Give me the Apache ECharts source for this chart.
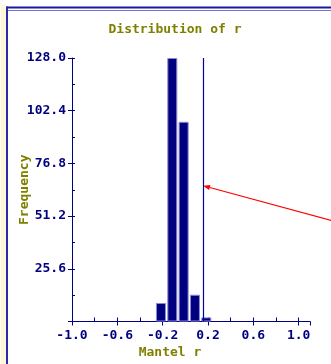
<!DOCTYPE html>
<html><head><meta charset="utf-8">
<script src="https://cdn.jsdelivr.net/npm/echarts@6/dist/echarts.min.js"></script>
<style>html,body{margin:0;padding:0;background:#fff}#c{width:331px;height:364px}</style>
</head><body><div id="c"></div>
<script>
// Data
var binCenters = [-0.215, -0.115, -0.015, 0.085, 0.185];
var frequencies = [9, 128, 97, 13, 2];
var observedR = 0.156;
var arrowTipFreq = 66;
var arrowTail = [1.36, 48];
var xLabelValues = [-1.0, -0.6, -0.2, 0.2, 0.6, 1.0];
var yLabelValues = [25.6, 51.2, 76.8, 102.4, 128.0];

var NAVY = '#000080', OLIVE = '#808000';
var FONT = 'DejaVu Sans Mono';
var chart = echarts.init(document.getElementById('c'));
var barData = binCenters.map(function (x, i) { return [x, frequencies[i]]; });

function near(v, list) { for (var i = 0; i < list.length; i++) if (Math.abs(v - list[i]) < 1e-6) return true; return false; }
var labelStyle = { color: NAVY, fontFamily: FONT, fontWeight: 'bold', fontSize: 13 };

chart.setOption({
  animation: false,
  title: { text: 'Distribution of r', left: 170, top: 18, textAlign: 'center',
    textStyle: { color: OLIVE, fontFamily: FONT, fontWeight: 'bold', fontSize: 13 } },
  grid: { left: 72, right: 21, top: 58, bottom: 42.5, containLabel: false, outerBoundsMode: 'none' },
  xAxis: [{
    type: 'value', min: -1, max: 1.1, interval: 0.2,
    name: 'Mantel r', nameLocation: 'middle', nameGap: 25, nameMoveOverlap: false,
    nameTextStyle: { color: OLIVE, fontFamily: FONT, fontWeight: 'bold', fontSize: 13, padding: [0, 42, 0, 0] },
    axisLine: { onZero: false, lineStyle: { color: NAVY, width: 1 } },
    axisTick: { inside: true, length: 4, lineStyle: { color: NAVY } },
    splitLine: { show: false },
    axisLabel: Object.assign({ margin: 8, showMaxLabel: false, formatter: function (v) {
      return near(v, xLabelValues) ? v.toFixed(1) : ''; } }, labelStyle)
  }, {
    type: 'value', min: -1, max: 1.1, interval: 0.4, position: 'bottom', offset: 0,
    axisLine: { show: false, onZero: false }, axisTick: { inside: false, length: 4, lineStyle: { color: NAVY } },
    axisLabel: { show: false }, splitLine: { show: false }
  }],
  yAxis: [{
    type: 'value', min: 0, max: 128, interval: 12.8,
    name: 'Frequency', nameLocation: 'middle', nameGap: 41, nameMoveOverlap: false,
    nameTextStyle: { color: OLIVE, fontFamily: FONT, fontWeight: 'bold', fontSize: 13 },
    axisLine: { show: true, onZero: false, lineStyle: { color: NAVY, width: 1 } },
    axisTick: { show: true, inside: true, length: 3, lineStyle: { color: NAVY } },
    splitLine: { show: false },
    axisLabel: Object.assign({ margin: 6, formatter: function (v) {
      return near(v, yLabelValues) ? v.toFixed(1) : ''; } }, labelStyle)
  }, {
    type: 'value', min: 0, max: 128, interval: 25.6, position: 'left', offset: 0,
    axisLine: { show: false, onZero: false }, axisTick: { show: true, inside: false, length: 4, lineStyle: { color: NAVY } },
    axisLabel: { show: false }, splitLine: { show: false }
  }],
  series: [{
    type: 'bar', data: barData, barWidth: 10,
    itemStyle: { color: NAVY, borderColor: '#8a8ad0', borderWidth: 1 },
    markLine: {
      silent: true, animation: false, symbol: ['none', 'none'],
      label: { show: false },
      lineStyle: { color: '#0000a0', width: 1.2, type: 'solid' },
      data: [ { xAxis: observedR } ]
    }
  }],
  graphic: [
    { id: 'strip', type: 'rect', shape: { x: 1, y: 5, width: 5, height: 359 }, style: { fill: '#fff8d8' }, silent: true },
    { id: 'top1', type: 'line', shape: { x1: 6, y1: 7.5, x2: 331, y2: 7.5 }, style: { stroke: '#1a1a9a', lineWidth: 2 }, silent: true },
    { id: 'top2', type: 'line', shape: { x1: 8, y1: 10.5, x2: 331, y2: 10.5 }, style: { stroke: '#7070d0', lineWidth: 1 }, silent: true },
    { id: 'left1', type: 'line', shape: { x1: 7, y1: 6.5, x2: 7, y2: 364 }, style: { stroke: '#2a2aaa', lineWidth: 2 }, silent: true }
  ]
});

// Red arrow annotation pointing at the observed r line
var tip = chart.convertToPixel({ xAxisIndex: 0, yAxisIndex: 0 }, [observedR, arrowTipFreq]);
var tail = chart.convertToPixel({ xAxisIndex: 0, yAxisIndex: 0 }, arrowTail);
var dx = tail[0] - tip[0], dy = tail[1] - tip[1], L = Math.sqrt(dx * dx + dy * dy);
var ux = dx / L, uy = dy / L, hl = 7, hw = 2.5;
var bx = tip[0] + ux * hl, by = tip[1] + uy * hl;
chart.setOption({ graphic: [
  { id: 'arrowLine', type: 'line', silent: true, shape: { x1: bx, y1: by, x2: tail[0], y2: tail[1] }, style: { stroke: '#ff0000', lineWidth: 1.2 } },
  { id: 'arrowHead', type: 'polygon', silent: true, shape: { points: [[tip[0], tip[1]], [bx - uy * hw, by + ux * hw], [bx + uy * hw, by - ux * hw]] }, style: { fill: '#ff0000' } }
] });
</script></body></html>
